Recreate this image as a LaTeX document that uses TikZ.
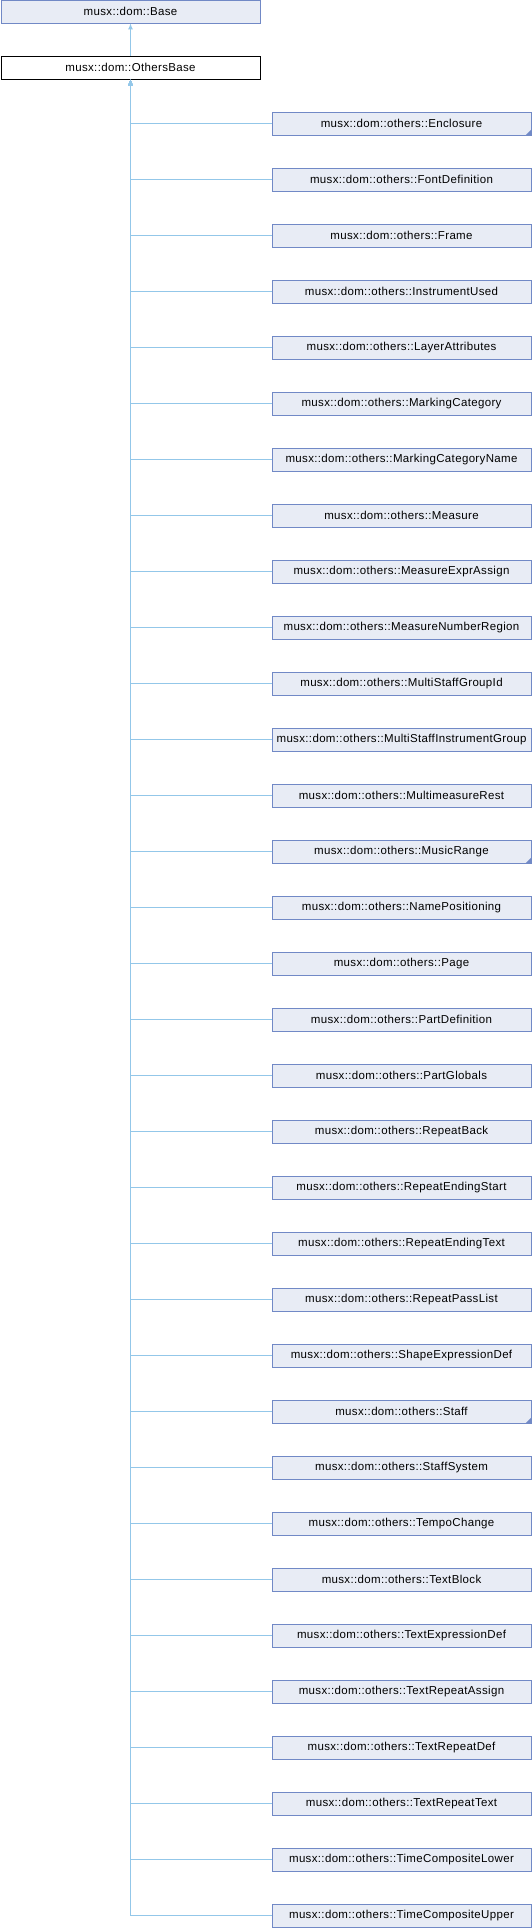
\documentclass[tikz,border=0pt]{standalone}
\usepackage{fontspec}
\setmainfont[LetterSpace=3]{Liberation Sans}
\usetikzlibrary{arrows.meta}
\definecolor{fondclasse}{HTML}{E8ECF5}
\definecolor{bordclasse}{HTML}{7189C6}
\definecolor{lien}{HTML}{93C7E9}
\begin{document}
\begin{tikzpicture}[x=1pt, y=-1pt]
	\tikzset{classe/.style={rectangle, draw=bordclasse, fill=fondclasse, line width=0.8pt, minimum width=259pt, minimum height=23pt, inner sep=0pt, font=\fontsize{11.5}{12}\selectfont},
		courante/.style={classe, draw=black, fill=white},
		fleche/.style={draw=lien, line width=1pt, -{Latex[length=6pt, width=5pt]}},
		marque/.style={fill=bordclasse}};
	\useasboundingbox (0,0) rectangle (532,1928);

	\node[classe]   (base) at (130.5,  11.5) {musx::dom::Base};
	\node[courante] (ob)   at (130.5,  67.5) {musx::dom::OthersBase};

	\node[classe] (c1)  at (401.5,  123.5) {musx::dom::others::Enclosure};
	\node[classe] (c2)  at (401.5,  179.5) {musx::dom::others::FontDefinition};
	\node[classe] (c3)  at (401.5,  235.5) {musx::dom::others::Frame};
	\node[classe] (c4)  at (401.5,  291.5) {musx::dom::others::InstrumentUsed};
	\node[classe] (c5)  at (401.5,  347.5) {musx::dom::others::LayerAttributes};
	\node[classe] (c6)  at (401.5,  403.5) {musx::dom::others::MarkingCategory};
	\node[classe] (c7)  at (401.5,  459.5) {musx::dom::others::MarkingCategoryName};
	\node[classe] (c8)  at (401.5,  515.5) {musx::dom::others::Measure};
	\node[classe] (c9)  at (401.5,  571.5) {musx::dom::others::MeasureExprAssign};
	\node[classe] (c10) at (401.5,  627.5) {musx::dom::others::MeasureNumberRegion};
	\node[classe] (c11) at (401.5,  683.5) {musx::dom::others::MultiStaffGroupId};
	\node[classe] (c12) at (401.5,  739.5) {musx::dom::others::MultiStaffInstrumentGroup};
	\node[classe] (c13) at (401.5,  795.5) {musx::dom::others::MultimeasureRest};
	\node[classe] (c14) at (401.5,  851.5) {musx::dom::others::MusicRange};
	\node[classe] (c15) at (401.5,  907.5) {musx::dom::others::NamePositioning};
	\node[classe] (c16) at (401.5,  963.5) {musx::dom::others::Page};
	\node[classe] (c17) at (401.5, 1019.5) {musx::dom::others::PartDefinition};
	\node[classe] (c18) at (401.5, 1075.5) {musx::dom::others::PartGlobals};
	\node[classe] (c19) at (401.5, 1131.5) {musx::dom::others::RepeatBack};
	\node[classe] (c20) at (401.5, 1187.5) {musx::dom::others::RepeatEndingStart};
	\node[classe] (c21) at (401.5, 1243.5) {musx::dom::others::RepeatEndingText};
	\node[classe] (c22) at (401.5, 1299.5) {musx::dom::others::RepeatPassList};
	\node[classe] (c23) at (401.5, 1355.5) {musx::dom::others::ShapeExpressionDef};
	\node[classe] (c24) at (401.5, 1411.5) {musx::dom::others::Staff};
	\node[classe] (c25) at (401.5, 1467.5) {musx::dom::others::StaffSystem};
	\node[classe] (c26) at (401.5, 1523.5) {musx::dom::others::TempoChange};
	\node[classe] (c27) at (401.5, 1579.5) {musx::dom::others::TextBlock};
	\node[classe] (c28) at (401.5, 1635.5) {musx::dom::others::TextExpressionDef};
	\node[classe] (c29) at (401.5, 1691.5) {musx::dom::others::TextRepeatAssign};
	\node[classe] (c30) at (401.5, 1747.5) {musx::dom::others::TextRepeatDef};
	\node[classe] (c31) at (401.5, 1803.5) {musx::dom::others::TextRepeatText};
	\node[classe] (c32) at (401.5, 1859.5) {musx::dom::others::TimeCompositeLower};
	\node[classe] (c33) at (401.5, 1915.5) {musx::dom::others::TimeCompositeUpper};

	% petits triangles des classes qui ont des derivees
	\fill[marque] (c1.south east)  -- ++(-6,0) -- ++(6,-6) -- cycle;
	\fill[marque] (c14.south east) -- ++(-6,0) -- ++(6,-6) -- cycle;
	\fill[marque] (c24.south east) -- ++(-6,0) -- ++(6,-6) -- cycle;

	\draw[fleche] (ob) to (base);
	\draw[fleche] (c1.west)  -| (ob.south);
	\draw[fleche] (c2.west)  -| (ob.south);
	\draw[fleche] (c3.west)  -| (ob.south);
	\draw[fleche] (c4.west)  -| (ob.south);
	\draw[fleche] (c5.west)  -| (ob.south);
	\draw[fleche] (c6.west)  -| (ob.south);
	\draw[fleche] (c7.west)  -| (ob.south);
	\draw[fleche] (c8.west)  -| (ob.south);
	\draw[fleche] (c9.west)  -| (ob.south);
	\draw[fleche] (c10.west) -| (ob.south);
	\draw[fleche] (c11.west) -| (ob.south);
	\draw[fleche] (c12.west) -| (ob.south);
	\draw[fleche] (c13.west) -| (ob.south);
	\draw[fleche] (c14.west) -| (ob.south);
	\draw[fleche] (c15.west) -| (ob.south);
	\draw[fleche] (c16.west) -| (ob.south);
	\draw[fleche] (c17.west) -| (ob.south);
	\draw[fleche] (c18.west) -| (ob.south);
	\draw[fleche] (c19.west) -| (ob.south);
	\draw[fleche] (c20.west) -| (ob.south);
	\draw[fleche] (c21.west) -| (ob.south);
	\draw[fleche] (c22.west) -| (ob.south);
	\draw[fleche] (c23.west) -| (ob.south);
	\draw[fleche] (c24.west) -| (ob.south);
	\draw[fleche] (c25.west) -| (ob.south);
	\draw[fleche] (c26.west) -| (ob.south);
	\draw[fleche] (c27.west) -| (ob.south);
	\draw[fleche] (c28.west) -| (ob.south);
	\draw[fleche] (c29.west) -| (ob.south);
	\draw[fleche] (c30.west) -| (ob.south);
	\draw[fleche] (c31.west) -| (ob.south);
	\draw[fleche] (c32.west) -| (ob.south);
	\draw[fleche] (c33.west) -| (ob.south);

\end{tikzpicture}
\end{document}
